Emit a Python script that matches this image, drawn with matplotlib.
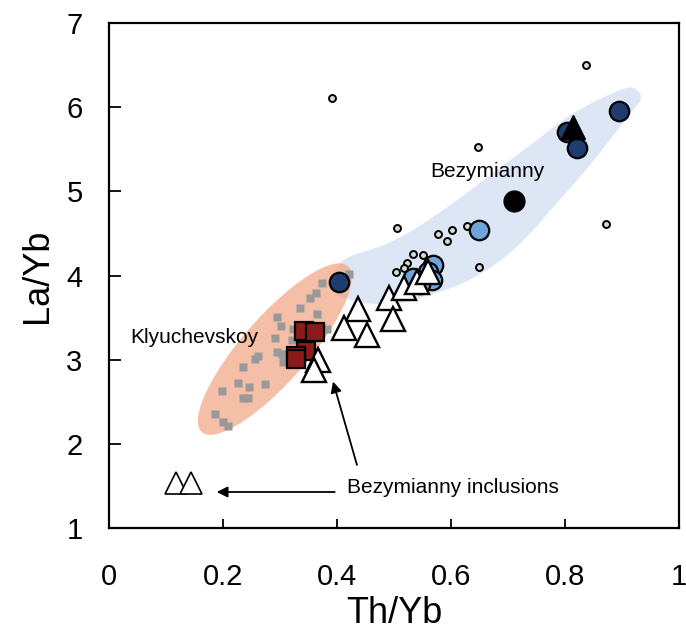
import numpy as np
import matplotlib.pyplot as plt
from matplotlib.patches import Polygon

plt.rcParams['font.family'] = ['Liberation Sans', 'DejaVu Sans']

# Klyuchevskoy whole rocks (grey squares)
kly_th = [0.421, 0.374, 0.363, 0.353, 0.335, 0.365, 0.295, 0.302, 0.323, 0.382,
          0.291, 0.321, 0.295, 0.304, 0.305, 0.261, 0.256, 0.235, 0.226, 0.246,
          0.274, 0.198, 0.235, 0.244, 0.186, 0.200, 0.209]
kly_la = [4.02, 3.91, 3.79, 3.73, 3.61, 3.54, 3.51, 3.40, 3.36, 3.36,
          3.26, 3.23, 3.09, 3.07, 2.97, 3.04, 3.01, 2.91, 2.72, 2.68,
          2.71, 2.63, 2.54, 2.54, 2.35, 2.26, 2.21]

# Klyuchevskoy samples (red squares)
kly2_th = [0.342, 0.361, 0.346, 0.328, 0.328]
kly2_la = [3.34, 3.33, 3.10, 3.04, 3.01]

# Bezymianny whole rocks (small dots)
bez_th = [0.837, 0.647, 0.872, 0.505, 0.577, 0.602, 0.593, 0.628, 0.649,
          0.533, 0.551, 0.523, 0.518, 0.504, 0.391]
bez_la = [6.50, 5.53, 4.61, 4.56, 4.49, 4.54, 4.41, 4.59, 4.10,
          4.25, 4.24, 4.15, 4.09, 4.04, 6.11]

# Bezymianny samples
navy_th = [0.895, 0.803, 0.821, 0.404]
navy_la = [5.95, 5.70, 5.51, 3.92]
light_th = [0.649, 0.568, 0.560, 0.567, 0.533, 0.546]
light_la = [4.54, 4.13, 4.04, 3.95, 3.97, 3.90]
black_th = [0.711]
black_la = [4.88]
black_tri_th = [0.814]
black_tri_la = [5.76]

# Bezymianny inclusions (open triangles)
incl_th = [0.437, 0.412, 0.453, 0.491, 0.498, 0.518, 0.540, 0.560, 0.367, 0.360]
incl_la = [3.60, 3.38, 3.29, 3.73, 3.48, 3.85, 3.92, 4.04, 3.00, 2.88]
incl_low_th = [0.118, 0.144]
incl_low_la = [1.53, 1.53]

# outline of the Bezymianny field
bez_field = [(0.388, 3.89), (0.411, 4.18), (0.481, 4.36), (0.533, 4.54),
             (0.593, 4.81), (0.651, 5.10), (0.698, 5.34), (0.751, 5.61),
             (0.804, 5.88), (0.856, 6.08), (0.909, 6.23), (0.928, 6.19),
             (0.932, 6.08), (0.909, 5.88), (0.874, 5.57), (0.826, 5.17),
             (0.779, 4.81), (0.733, 4.46), (0.681, 4.15), (0.621, 3.91),
             (0.563, 3.77), (0.511, 3.67), (0.453, 3.67), (0.405, 3.76)]


def smooth_closed(pts, n=12):
    # periodic Catmull-Rom through the outline vertices
    p = np.array(pts)
    out = []
    m = len(p)
    for i in range(m):
        p0, p1, p2, p3 = p[i - 1], p[i], p[(i + 1) % m], p[(i + 2) % m]
        for t in np.linspace(0, 1, n, endpoint=False):
            out.append(0.5 * ((2 * p1) + (-p0 + p2) * t
                              + (2 * p0 - 5 * p1 + 4 * p2 - p3) * t ** 2
                              + (-p0 + 3 * p1 - 3 * p2 + p3) * t ** 3))
    return np.array(out)


fig = plt.figure(figsize=(6.86, 6.39), dpi=100)
ax = fig.add_axes([0.1589, 0.1737, 0.8309, 0.7903])

# fields
ax.add_patch(Polygon(smooth_closed(bez_field), closed=True, facecolor='#dce6f5',
                     edgecolor='none', zorder=1))
t = np.linspace(0, 2 * np.pi, 200)
ell_x = 0.291 + 0.128 * np.cos(t) + 0.043 * np.sin(t)
ell_y = 3.126 + 0.986 * np.cos(t) - 0.256 * np.sin(t)
ax.add_patch(Polygon(np.column_stack([ell_x, ell_y]), closed=True,
                     facecolor='#f2a584', alpha=0.72, edgecolor='none', zorder=2))

ax.plot(kly_th, kly_la, 's', ms=5.6, color='#999999', mec='none', zorder=3)
ax.plot(bez_th, bez_la, 'o', ms=5, mfc='#d8d8d8', mec='black', mew=1.4, zorder=3)
ax.plot(navy_th, navy_la, 'o', ms=14, mfc='#1f3c6e', mec='black', mew=1.6, zorder=4)
ax.plot(light_th, light_la, 'o', ms=14, mfc='#6fa3dc', mec='black', mew=1.6, zorder=4)
ax.plot(black_th, black_la, 'o', ms=15, color='black', zorder=4)
ax.plot(kly2_th, kly2_la, 's', ms=13.5, mfc='#8b1a1a', mec='black', mew=1.6, zorder=5)
ax.plot(incl_th, incl_la, '^', ms=17, mfc='white', mec='black', mew=1.7, zorder=6)
ax.plot(incl_low_th, incl_low_la, '^', ms=16.5, mfc='white', mec='black', mew=1.2, zorder=6)
ax.plot(black_tri_th, black_tri_la, '^', ms=17, color='black', zorder=6)

# labels and arrows
ax.text(0.037, 3.26, 'Klyuchevskoy', fontsize=15, va='center', ha='left', zorder=7)
ax.text(0.563, 5.23, 'Bezymianny', fontsize=15, va='center', ha='left', zorder=7)
ax.text(0.418, 1.416, 'Bezymianny inclusions', fontsize=15, va='baseline',
        ha='left', zorder=7)
ax.annotate('', xy=(0.189, 1.428), xytext=(0.396, 1.428),
            arrowprops=dict(arrowstyle='-|>', color='black', lw=1.3,
                            mutation_scale=16, shrinkA=0, shrinkB=0))
ax.annotate('', xy=(0.393, 2.74), xytext=(0.435, 1.75),
            arrowprops=dict(arrowstyle='-|>', color='black', lw=1.3,
                            mutation_scale=16, shrinkA=0, shrinkB=0))

ax.set_xlim(0, 1)
ax.set_ylim(1, 7)
ax.set_xticks([0, 0.2, 0.4, 0.6, 0.8, 1])
ax.set_xticklabels(['0', '0.2', '0.4', '0.6', '0.8', '1'])
ax.set_yticks([1, 2, 3, 4, 5, 6, 7])
ax.tick_params(axis='x', direction='in', length=6.5, width=1.3, labelsize=21, pad=25)
ax.tick_params(axis='y', direction='in', length=8.5, width=1.3, labelsize=21, pad=19)
for s in ax.spines.values():
    s.set_linewidth(1.6)
ax.set_xlabel('Th/Yb', fontsize=26, labelpad=4)
ax.set_ylabel('La/Yb', fontsize=26, labelpad=8)

fig.savefig('out.png', dpi=100)
